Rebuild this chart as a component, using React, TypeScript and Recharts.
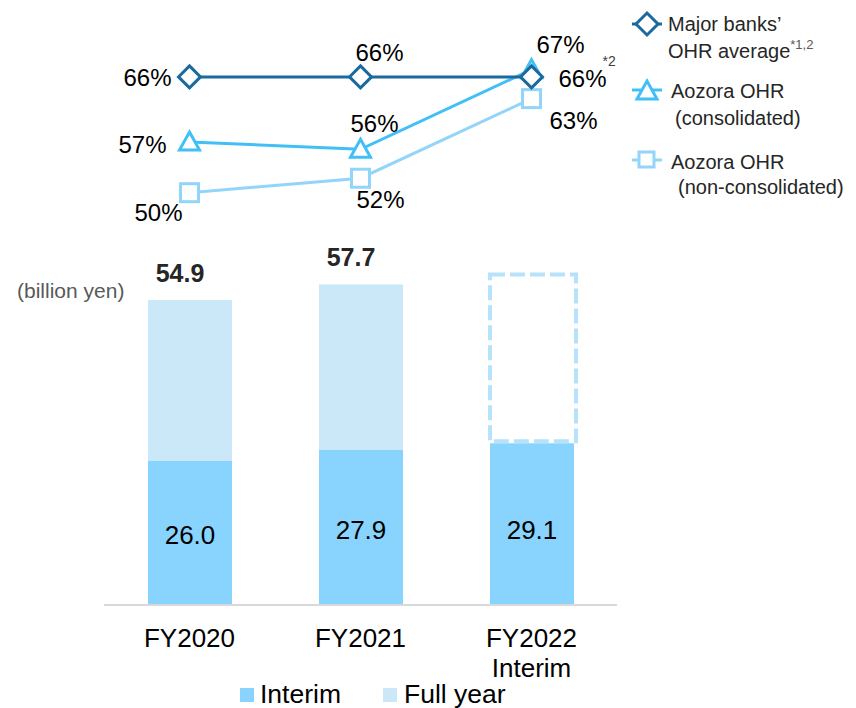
import React from "react";
import { ComposedChart, Bar, Line, XAxis, YAxis, LabelList } from "recharts";

const periods = ["FY2020", "FY2021", "FY2022\nInterim"];
const interim = [26.0, 27.9, 29.1];
const fullYear: (number | null)[] = [54.9, 57.7, null];
// full-year frame for the current year (no result yet)
const fullYearOutline: (number | null)[] = [null, null, 59.5];
const majorBanksOhr = [66, 66, 66];
const aozoraConsolidated = [57, 56, 67];
const aozoraNonConsolidated = [50, 52, 63];

const FONT = "'Liberation Sans', Arial, sans-serif";
const C_MAJOR = "#1b6a9e";
const C_CONS = "#41c0f7";
const C_NONCONS = "#93d5fa";
const C_INTERIM = "#88d4fe";
const C_FULL = "#cbe8f8";
const C_OUTLINE = "#b6e2fb";

const data = periods.map((period, i) => {
  const top = fullYear[i] ?? fullYearOutline[i] ?? interim[i];
  return {
    period,
    interim: interim[i],
    rest: +(top - interim[i]).toFixed(1),
    total: fullYear[i],
    outlined: fullYear[i] == null,
    major: majorBanksOhr[i],
    cons: aozoraConsolidated[i],
    nonCons: aozoraNonConsolidated[i],
  };
});

// label placement around each point: [dx, dy]
const labelOffsets: Record<string, [number, number][]> = {
  major: [[-42, 1], [19, -24], [51, 2]],
  cons: [[-47, 2], [14, -26], [29, -25]],
  nonCons: [[-31, 20], [20, 21], [42, 22]],
};

const pctLabel = (key: string) => (props: any) => {
  const { x, y, value, index } = props;
  const [dx, dy] = labelOffsets[key][index];
  return (
    <g>
      <text
        x={x + dx}
        y={y + dy}
        textAnchor="middle"
        dominantBaseline="central"
        fontSize={24}
        fill="#000"
      >
        {value}%
      </text>
      {key === "major" && index === 2 && (
        <text x={x + dx + 20} y={y + dy - 13} fontSize={14} fill="#404040">
          *2
        </text>
      )}
    </g>
  );
};

const Diamond = ({ cx, cy, stroke }: any) => (
  <path
    d={`M${cx},${cy - 11} L${cx + 11},${cy} L${cx},${cy + 11} L${cx - 11},${cy} Z`}
    fill="#fff"
    stroke={stroke}
    strokeWidth={3}
  />
);
const Triangle = ({ cx, cy, stroke }: any) => (
  <path
    d={`M${cx},${cy - 10} L${cx + 10},${cy + 8} L${cx - 10},${cy + 8} Z`}
    fill="#fff"
    stroke={stroke}
    strokeWidth={3}
  />
);
const Square = ({ cx, cy, stroke }: any) => (
  <rect x={cx - 9} y={cy - 9} width={18} height={18} fill="#fff" stroke={stroke} strokeWidth={3} />
);

const RestShape = (props: any) => {
  const { x, y, width, height, payload } = props;
  if (payload.outlined) {
    return (
      <rect
        x={x}
        y={y}
        width={width + 2}
        height={height - 2}
        fill="none"
        stroke={C_OUTLINE}
        strokeWidth={4}
        strokeDasharray="15 5"
      />
    );
  }
  return <rect x={x} y={y} width={width} height={height} fill={C_FULL} />;
};

const TotalLabel = (props: any) => {
  const { x, y, width, value } = props;
  if (value == null) return null;
  return (
    <text
      x={x + width / 2 - 10}
      y={y - 27}
      textAnchor="middle"
      dominantBaseline="central"
      fontSize={25}
      fontWeight="bold"
      fill="#262626"
    >
      {value.toFixed(1)}
    </text>
  );
};

const InterimLabel = (props: any) => {
  const { x, y, width, height, value } = props;
  return (
    <text
      x={x + width / 2}
      y={Math.max(y + height / 2 + 2, 530)}
      textAnchor="middle"
      dominantBaseline="central"
      fontSize={26}
      fill="#000"
    >
      {value.toFixed(1)}
    </text>
  );
};

const PeriodTick = (props: any) => {
  const { x, y, payload } = props;
  const lines = String(payload.value).split("\n");
  return (
    <text x={x} y={y + 34} textAnchor="middle" fontSize={26} fill="#000">
      {lines.map((l, i) => (
        <tspan key={i} x={x} dy={i === 0 ? 0 : 30}>
          {l}
        </tspan>
      ))}
    </text>
  );
};

// legend entry for a line series: short line with its marker
const LegendMark = ({ y, kind, color }: { y: number; kind: string; color: string }) => (
  <g>
    <line x1={632} y1={y} x2={662} y2={y} stroke={color} strokeWidth={3} />
    {kind === "diamond" && <Diamond cx={647} cy={y} stroke={color} />}
    {kind === "triangle" && <Triangle cx={647} cy={y + 1} stroke={color} />}
    {kind === "square" && (
      <rect x={639} y={y - 8} width={15} height={15} fill="#fff" stroke={color} strokeWidth={3} />
    )}
  </g>
);

export default function App() {
  return (
    <div
      style={{
        position: "absolute",
        left: 0,
        top: 0,
        width: 856,
        height: 708,
        fontFamily: FONT,
        background: "#fff",
      }}
    >
      <ComposedChart
        width={856}
        height={708}
        data={data}
        margin={{ top: 30, right: 239, left: 104, bottom: 0 }}
        style={{ fontFamily: FONT }}
      >
        <XAxis
          dataKey="period"
          interval={0}
          height={103}
          tickLine={false}
          axisLine={{ stroke: "#d9d9d9", strokeWidth: 2 }}
          tick={<PeriodTick />}
        />
        <YAxis yAxisId="amt" hide domain={[0, 103.5]} />
        <YAxis yAxisId="pct" hide domain={[-6.97, 72.48]} />
        <Bar
          yAxisId="amt"
          dataKey="interim"
          stackId="a"
          fill={C_INTERIM}
          barSize={84}
          isAnimationActive={false}
        >
          <LabelList dataKey="interim" content={InterimLabel} />
        </Bar>
        <Bar
          yAxisId="amt"
          dataKey="rest"
          stackId="a"
          fill={C_FULL}
          barSize={84}
          shape={RestShape}
          isAnimationActive={false}
        >
          <LabelList dataKey="total" content={TotalLabel} />
        </Bar>
        <Line
          yAxisId="pct"
          dataKey="nonCons"
          stroke={C_NONCONS}
          strokeWidth={3}
          dot={(p: any) => <Square key={p.index} cx={p.cx} cy={p.cy} stroke={C_NONCONS} />}
          isAnimationActive={false}
        >
          <LabelList dataKey="nonCons" content={pctLabel("nonCons")} />
        </Line>
        <Line
          yAxisId="pct"
          dataKey="cons"
          stroke={C_CONS}
          strokeWidth={3}
          dot={(p: any) => <Triangle key={p.index} cx={p.cx} cy={p.cy} stroke={C_CONS} />}
          isAnimationActive={false}
        >
          <LabelList dataKey="cons" content={pctLabel("cons")} />
        </Line>
        <Line
          yAxisId="pct"
          dataKey="major"
          stroke={C_MAJOR}
          strokeWidth={3}
          dot={(p: any) => <Diamond key={p.index} cx={p.cx} cy={p.cy} stroke={C_MAJOR} />}
          isAnimationActive={false}
        >
          <LabelList dataKey="major" content={pctLabel("major")} />
        </Line>
      </ComposedChart>

      {/* unit note and legends */}
      <svg
        width={856}
        height={708}
        style={{ position: "absolute", left: 0, top: 0, pointerEvents: "none", fontFamily: FONT }}
      >
        <text x={17} y={290} dominantBaseline="central" fontSize={21} fill="#595959">
          (billion yen)
        </text>

        <LegendMark y={24} kind="diamond" color={C_MAJOR} />
        <text x={668} y={24} dominantBaseline="central" fontSize={20} fill="#262626">
          Major banks’
        </text>
        <text x={668} y={51} dominantBaseline="central" fontSize={20} fill="#262626">
          OHR average
          <tspan fontSize={13} fill="#595959" dy={-7}>
            *1,2
          </tspan>
        </text>

        <LegendMark y={90} kind="triangle" color={C_CONS} />
        <text x={671} y={91} dominantBaseline="central" fontSize={20} fill="#262626">
          Aozora OHR
        </text>
        <text x={675} y={118} dominantBaseline="central" fontSize={20} fill="#262626">
          (consolidated)
        </text>

        <LegendMark y={160} kind="square" color={C_NONCONS} />
        <text x={671} y={162} dominantBaseline="central" fontSize={20} fill="#262626">
          Aozora OHR
        </text>
        <text x={678} y={187} dominantBaseline="central" fontSize={20} fill="#262626">
          (non-consolidated)
        </text>

        <rect x={240} y={688} width={14} height={14} fill={C_INTERIM} />
        <text x={260} y={703} fontSize={26.5} fill="#000">
          Interim
        </text>
        <rect x={383} y={688} width={14} height={14} fill={C_FULL} />
        <text x={404} y={703} fontSize={26.5} fill="#000">
          Full year
        </text>
      </svg>
    </div>
  );
}
